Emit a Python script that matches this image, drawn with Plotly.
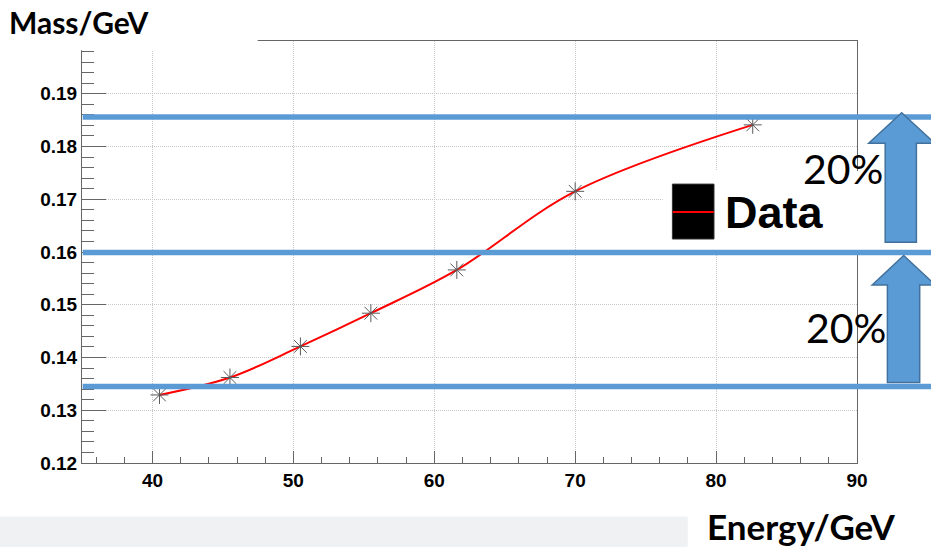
import plotly.graph_objects as go

# ---- data ----
energy = [40.5, 45.5, 50.5, 55.5, 61.6, 70.0, 82.6]
mass = [0.1329, 0.1362, 0.1421, 0.1484, 0.1566, 0.1715, 0.1841]
ref_levels = [0.1856, 0.1599, 0.1345]
pct_labels = ["20%", "20%"]
x_ticks = [40, 50, 60, 70, 80, 90]
y_ticks = [0.12, 0.13, 0.14, 0.15, 0.16, 0.17, 0.18, 0.19]
y_tick_text = ["0.12", "0.13", "0.14", "0.15", "0.16", "0.17", "0.18", "0.19"]

W, H = 931, 547
L, R, T, B = 82.3, 857.3, 40.7, 463.3


def px(x):
    return (x - L) / (R - L)


def py(y):
    return (B - y) / (B - T)


fig = go.Figure()
fig.add_trace(go.Scatter(
    x=energy, y=mass, mode="lines+markers", name="Data",
    line=dict(color="#ff0000", width=2, shape="spline", smoothing=1.0),
    marker=dict(symbol="asterisk-open", size=15, color="#5a5a5a",
                line=dict(width=1, color="#5a5a5a")),
    showlegend=False,
))

shapes = []
# top frame line at 0.2 (grid for top value)
shapes.append(dict(type="rect", xref="paper", yref="paper", layer="above",
                   x0=px(-5), x1=px(258), y0=py(50), y1=py(-5),
                   fillcolor="white", line=dict(width=0)))
shapes.append(dict(type="rect", xref="paper", yref="paper", layer="below",
                   x0=px(-5), x1=px(688), y0=py(560), y1=py(517),
                   fillcolor="#f0f1f3", line=dict(width=0)))
shapes.append(dict(type="rect", xref="paper", yref="paper", layer="above",
                   x0=px(663), x1=px(872), y0=py(250), y1=py(171),
                   fillcolor="white", line=dict(width=0)))
shapes.append(dict(type="rect", xref="paper", yref="paper", layer="above",
                   x0=px(672.7), x1=px(714.3), y0=py(239), y1=py(184),
                   fillcolor="black", line=dict(width=1, color="#333333")))
shapes.append(dict(type="line", xref="paper", yref="paper", layer="above",
                   x0=px(673), x1=px(714), y0=py(212), y1=py(212),
                   line=dict(color="#ff0000", width=2)))
for lv in ref_levels:
    shapes.append(dict(type="line", xref="paper", yref="y", layer="above",
                       x0=px(83), x1=px(935), y0=lv, y1=lv,
                       line=dict(color="#5b9bd5", width=5.5)))


def arrow(tip_x, tip_y, head_y, head_half, sh_l, sh_r, bottom):
    pts = [(tip_x, tip_y), (tip_x + head_half, head_y), (sh_r, head_y),
           (sh_r, bottom), (sh_l, bottom), (sh_l, head_y),
           (tip_x - head_half, head_y)]
    path = "M " + " L ".join(f"{px(a):.5f},{py(b):.5f}" for a, b in pts) + " Z"
    return dict(type="path", xref="paper", yref="paper", layer="above", path=path,
                fillcolor="#5b9bd5", line=dict(color="#41719c", width=1.5))


shapes.append(arrow(902, 112.5, 143, 33, 885.5, 916.7, 242.3))
shapes.append(arrow(904, 255.5, 285, 31.5, 887.7, 920, 382.7))

annotations = [
    dict(text="Mass/GeV", xref="paper", yref="paper", x=px(7), y=py(22),
         xanchor="left", yanchor="middle", showarrow=False,
         font=dict(family="Lato", size=30, color="black", weight="bold")),
    dict(text="Energy/GeV", xref="paper", yref="paper", x=px(705), y=py(526),
         xanchor="left", yanchor="middle", showarrow=False,
         font=dict(family="Lato", size=35, color="black", weight="bold")),
    dict(text=pct_labels[0], xref="paper", yref="paper", x=px(843), y=py(168),
         xanchor="center", yanchor="middle", showarrow=False,
         font=dict(family="Lato", size=41, color="black")),
    dict(text=pct_labels[1], xref="paper", yref="paper", x=px(846.5), y=py(328),
         xanchor="center", yanchor="middle", showarrow=False,
         font=dict(family="Lato", size=41, color="black")),
    dict(text="Data", xref="paper", yref="paper", x=px(723), y=py(212),
         xanchor="left", yanchor="middle", showarrow=False,
         font=dict(family="Liberation Sans", size=45, color="black", weight="bold")),
]

axcol = "#666666"
gridcol = "#c8c8c8"
tickfont = dict(family="Liberation Sans", size=19, color="black", weight="bold")

fig.update_layout(
    width=W, height=H,
    margin=dict(l=L, r=W - R, t=T, b=H - B, pad=0),
    paper_bgcolor="white", plot_bgcolor="white",
    shapes=shapes, annotations=annotations,
    xaxis=dict(range=[35, 90], tickvals=x_ticks, ticks="inside", ticklen=12,
               tickcolor=axcol, tickwidth=1, showline=True, linecolor=axcol,
               linewidth=1, mirror=True, showgrid=True, gridcolor=gridcol,
               griddash="1px,1px", gridwidth=1, zeroline=False, tickfont=tickfont,
               minor=dict(dtick=2, tick0=0, ticks="inside", ticklen=6, tickcolor=axcol,
                          showgrid=False)),
    yaxis=dict(range=[0.12, 0.2], tickvals=y_ticks, ticktext=y_tick_text,
               ticks="inside", ticklen=24,
               tickcolor=axcol, tickwidth=1, showline=True, linecolor=axcol,
               linewidth=1, mirror=True, showgrid=True, gridcolor=gridcol,
               griddash="1px,1px", gridwidth=1, zeroline=False, tickfont=tickfont,
               minor=dict(dtick=0.002, tick0=0, ticks="inside", ticklen=12,
                          tickcolor=axcol, showgrid=False)),
)

fig.write_html("out.html")
